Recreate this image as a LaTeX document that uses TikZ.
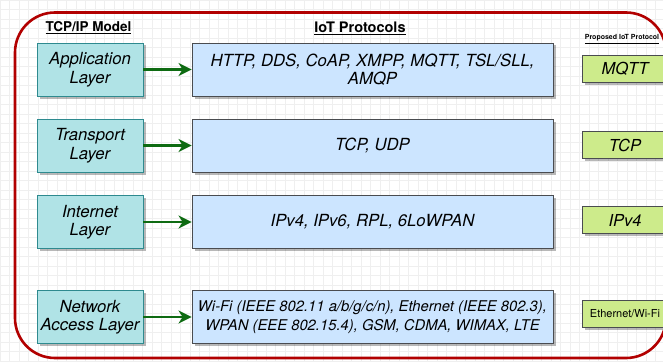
\documentclass[tikz,border=0pt]{standalone}
\usepackage{fontspec}
\setmainfont{TeX Gyre Heros}
\usetikzlibrary{arrows.meta,shadows}

\definecolor{frame}{HTML}{B20000}
\definecolor{tealfill}{HTML}{B0E3E6}
\definecolor{tealline}{HTML}{2E8A8F}
\definecolor{bluefill}{HTML}{CCE5FF}
\definecolor{greenfill}{HTML}{CDEB8B}
\definecolor{boxline}{HTML}{4A4C50}
\definecolor{arrowgreen}{HTML}{0E6B12}
\definecolor{gridline}{HTML}{EFEFEF}

\tikzset{
  boxshadow/.style={drop shadow={shadow xshift=2.5pt,shadow yshift=-2.5pt,fill=black,opacity=0.28}},
  layerbox/.style={draw=tealline,fill=tealfill,line width=0.9pt,boxshadow,
    minimum width=106pt,minimum height=53pt,inner sep=0pt,align=center,
    font=\fontsize{16.7}{18.5}\selectfont\itshape},
  protobox/.style={draw=boxline,fill=bluefill,line width=0.9pt,boxshadow,
    minimum width=361pt,minimum height=53pt,inner sep=0pt,align=center,
    font=\fontsize{16.7}{18.5}\selectfont\itshape},
  pickbox/.style={draw=boxline,fill=greenfill,line width=0.9pt,boxshadow,
    minimum width=86pt,minimum height=27pt,inner sep=0pt,align=center,
    font=\fontsize{16.5}{20}\selectfont\itshape},
  header/.style={inner sep=0pt,font=\bfseries},
  flow/.style={draw=arrowgreen,line width=2.6pt,-{Stealth[length=13pt,width=13pt,inset=4pt]}},
}

\begin{document}
\begin{tikzpicture}[x=1pt,y=-1pt]
\useasboundingbox (0,0) rectangle (663,361);
\clip (0,0) rectangle (663,361);
\fill[white] (0,0) rectangle (663,361);

% background grid
\draw[gridline,line width=0.6pt] (0,0) grid[step=9.5pt] (663,361);

% outer frame
\draw[frame,line width=2.6pt,rounded corners=40pt] (15,12.5) rectangle (666,358);

% column headers
\node[header,font=\fontsize{13.5}{16}\selectfont\bfseries] (h1) at (88.5,28) {\underline{TCP/IP Model}};
\node[header,font=\fontsize{14.5}{17}\selectfont\bfseries] (h2) at (360,28) {\underline{IoT Protocols}};
\node[header,font=\fontsize{7}{8}\selectfont\bfseries] (h3) at (622,39) {\underline{Proposed IoT Protocol}};

% TCP/IP layers
\node[layerbox] (l1) at (90,69.5) {Application\\Layer};
\node[layerbox] (l2) at (90,145.5) {Transport\\Layer};
\node[layerbox] (l3) at (90,222) {Internet\\Layer};
\node[layerbox] (l4) at (90,317) {Network\\Access Layer};

% protocol boxes
\node[protobox] (p1) at (372.5,69.5) {HTTP, DDS, CoAP, XMPP, MQTT, TSL/SLL,\\AMQP};
\node[protobox] (p2) at (372.5,145.5) {TCP, UDP};
\node[protobox] (p3) at (372.5,222) {IPv4, IPv6, RPL, 6LoWPAN};
\node[protobox,font=\fontsize{14.8}{18.5}\selectfont\itshape] (p4) at (372.5,317)
  {Wi-Fi (IEEE 802.11 a/b/g/c/n), Ethernet (IEEE 802.3),\\WPAN (EEE 802.15.4), GSM, CDMA, WIMAX, LTE};

% proposed protocols
\node[pickbox] (g1) at (625,69) {MQTT};
\node[pickbox] (g2) at (625,145) {TCP};
\node[pickbox] (g3) at (625,220) {IPv4};
\node[pickbox,font=\fontsize{11}{13}\selectfont] (g4) at (625,314) {Ethernet/Wi-Fi};

% layer to protocol arrows
\draw[flow] (l1) -- (p1);
\draw[flow] (l2) -- (p2);
\draw[flow] (l3) -- (p3);
\draw[flow] (l4) -- (p4);
\end{tikzpicture}
\end{document}
